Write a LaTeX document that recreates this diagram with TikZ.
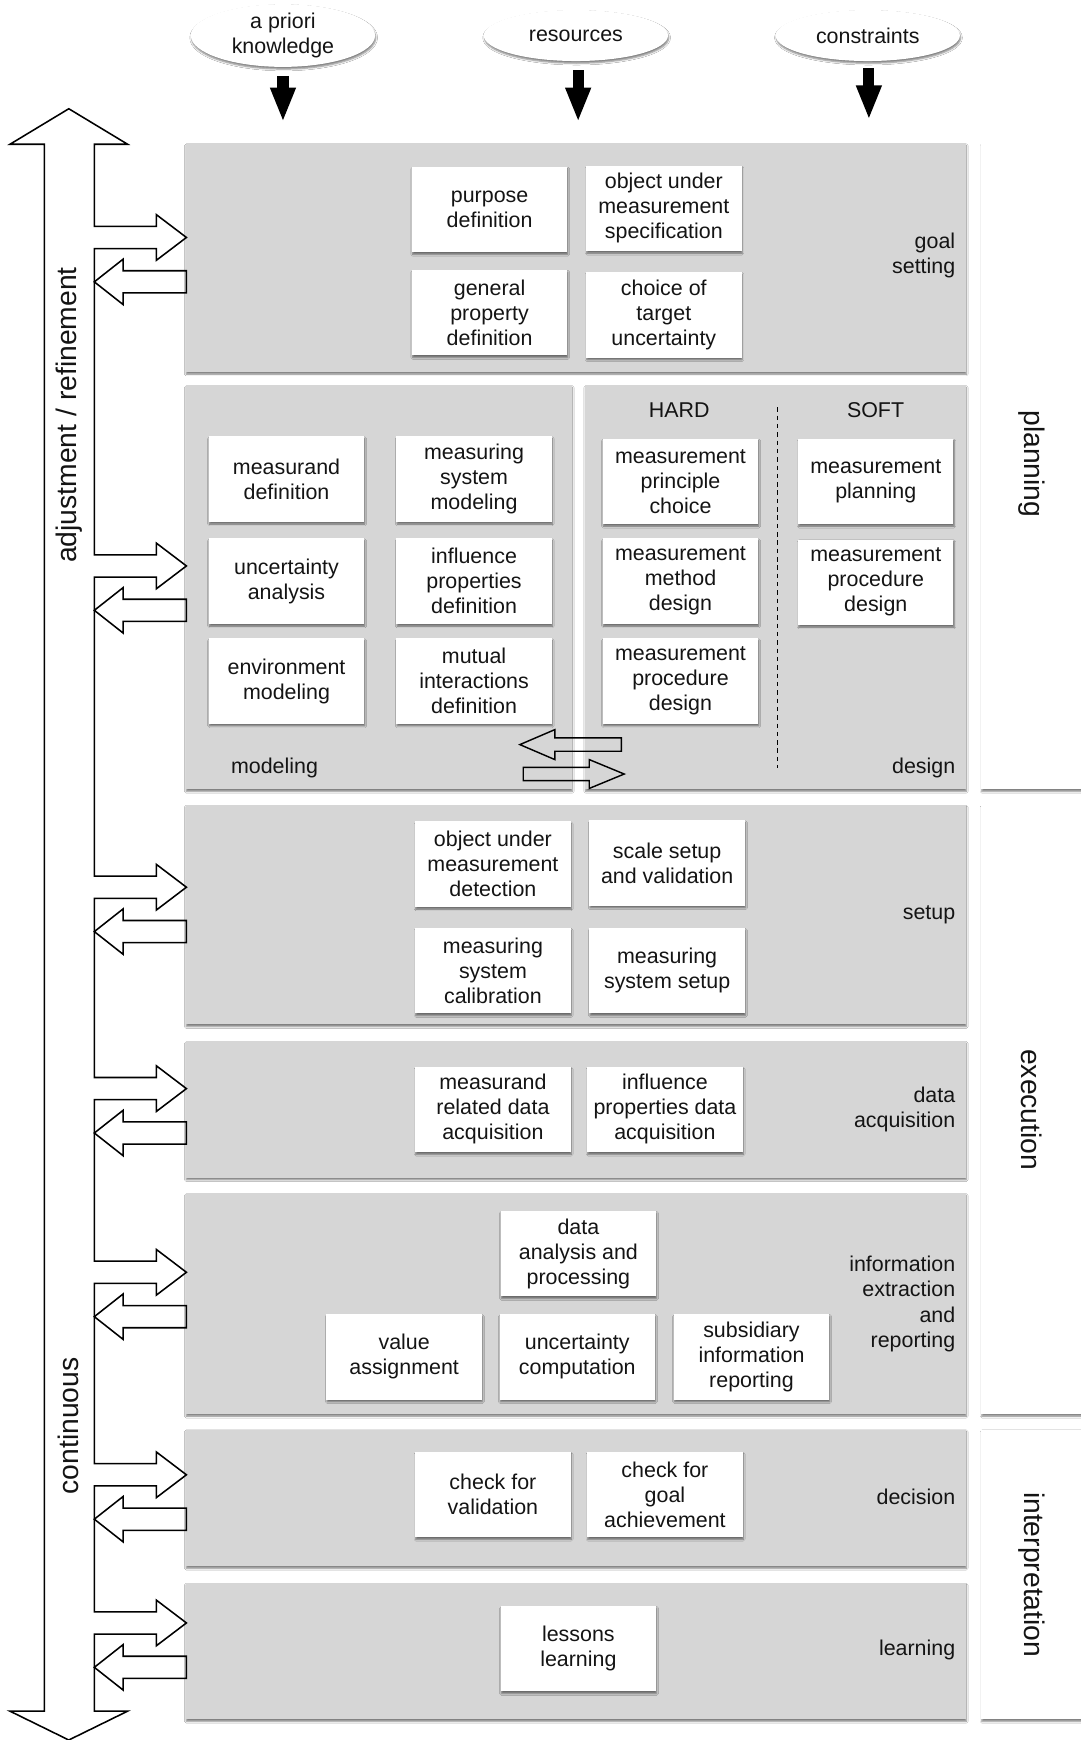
\documentclass[tikz,border=0pt]{standalone}
\usepackage{fontspec}
\setmainfont{Liberation Sans}
\usetikzlibrary{shapes.geometric,shadows.blur,arrows.meta}
\definecolor{panelgray}{RGB}{214,214,214}
\definecolor{txt}{RGB}{20,20,20}
\begin{document}
\begin{tikzpicture}[x=1pt,y=-1pt,
  every node/.style={text=txt},
  shad/.style={blur shadow={shadow xshift=0.6pt,shadow yshift=-2pt,shadow blur radius=1.6pt,shadow opacity=50}},
  panel/.style={fill=panelgray,shad,anchor=north west,inner sep=0pt,minimum width=703pt},
  rpanel/.style={fill=white,shad,anchor=north west,inner sep=0pt,minimum width=130pt},
  wbox/.style={fill=white,shad,anchor=north west,minimum width=140pt,minimum height=77pt,inner sep=0pt,align=center,font=\fontsize{19.3}{22.5}\selectfont},
  ell/.style={ellipse,fill=white,shad,minimum width=166pt,minimum height=46pt,inner sep=0pt,align=center,font=\fontsize{19.3}{22}\selectfont},
  lbl/.style={inner sep=0pt,font=\fontsize{19.3}{22.7}\selectfont},
  biglbl/.style={inner sep=0pt,font=\fontsize{25.5}{30}\selectfont},
  blk/.style={line width=10pt,-{Triangle[width=21pt,length=31pt]},black},
  outl/.style={draw=black,line width=1.4pt,line join=miter,fill=white},
  outlnf/.style={draw=black,line width=1.3pt,line join=miter}
]
\useasboundingbox (0,0) rectangle (974,1568);
\fill[white] (0,0) rectangle (974,1568);

% right column
\node[rpanel,minimum height=582pt] (plan) at (884,129) {};
\node[rpanel,minimum height=549pt] (exec) at (884,725) {};
\node[rpanel,minimum height=261pt] (interp) at (884,1288) {};
\node[biglbl,rotate=-90] (planl) at (930,418) {planning};
\node[biglbl,rotate=-90] (execl) at (930,1000) {execution};
\node[biglbl,rotate=-90] (interpl) at (930,1419) {interpretation};

% gray panels
\node[panel,minimum height=206pt] (goal) at (167,129) {};
\node[panel,minimum width=348pt,minimum height=364pt] (model) at (167,347) {};
\node[panel,minimum width=343pt,minimum height=364pt] (design) at (527,347) {};
\node[panel,minimum height=198pt] (setup) at (167,725) {};
\node[panel,minimum height=123pt] (data) at (167,938) {};
\node[panel,minimum height=199pt] (info) at (167,1075) {};
\node[panel,minimum height=123pt] (decis) at (167,1288) {};
\node[panel,minimum height=123pt] (learn) at (167,1426) {};

% ellipses and black arrows
\node[ell] (apk) at (255,32) {a priori\\knowledge};
\node[ell] (res) at (519,32) {resources};
\node[ell] (con) at (782,32) {constraints};
\draw[blk] ([yshift=-8pt]apk.south) -- ([yshift=19pt]apk.south |- goal.north);
\draw[blk] ([yshift=-8pt,xshift=2pt]res.south) -- ([yshift=19pt,xshift=2pt]res.south |- goal.north);
\draw[blk] ([yshift=-6pt,xshift=1pt]con.south) -- ([yshift=21pt,xshift=1pt]con.south |- goal.north);

% goal setting
\node[wbox] (pd) at (371,150) {purpose\\definition};
\node[wbox] (oums) at (528,149) {object under\\measurement\\specification};
\node[wbox] (gpd) at (371,243) {general\\property\\definition};
\node[wbox] (ctu) at (528,245) {choice of\\target\\uncertainty};
\node[lbl,anchor=east,align=right] (goall) at (861,230.5) {goal\\setting};

% modeling
\node[wbox] (md) at (188,393) {measurand\\definition};
\node[wbox] (msm) at (357,393) {measuring\\system\\modeling};
\node[wbox] (ua) at (188,485) {uncertainty\\analysis};
\node[wbox] (ipd) at (357,485) {influence\\properties\\definition};
\node[wbox] (em) at (188,575) {environment\\modeling};
\node[wbox] (mid) at (357,575) {mutual\\interactions\\definition};
\node[lbl,anchor=west] (modell) at (208,692) {modeling};

% design
\node[lbl] (hard) at (612,370) {HARD};
\node[lbl] (soft) at (789,370) {SOFT};
\node[wbox] (mpc) at (543,395) {measurement\\principle\\choice};
\node[wbox] (mmd) at (543,485) {measurement\\method\\design};
\node[wbox] (mpd) at (543,575) {measurement\\procedure\\design};
\node[wbox] (mpl) at (719,395) {measurement\\planning};
\node[wbox] (mpd2) at (719,486) {measurement\\procedure\\design};
\node[lbl,anchor=east] (designl) at (861,692) {design};
\coordinate (dashtop) at (701,367);
\coordinate (dashbot) at (701,692);
\draw[line width=1pt,dash pattern=on 4pt off 3.5pt] (dashtop) -- (dashbot);

% cross arrows
\draw[outlnf] (468.5,671) -- (500,657.5) -- (500,665) -- (560,665) -- (560,677) -- (500,677) -- (500,684.5) -- cycle;
\draw[outlnf] (562.5,697.5) -- (531,684.5) -- (531,691.5) -- (471.5,691.5) -- (471.5,703.5) -- (531,703.5) -- (531,710.5) -- cycle;

% setup
\node[wbox] (oumd) at (374,740) {object under\\measurement\\detection};
\node[wbox] (ssv) at (531,739) {scale setup\\and validation};
\node[wbox] (msc) at (374,836) {measuring\\system\\calibration};
\node[wbox] (mss) at (531,836) {measuring\\system setup};
\node[lbl,anchor=east] (setupl) at (861,824) {setup};

% data acquisition
\node[wbox] (mrda) at (374,961) {measurand\\related data\\acquisition};
\node[wbox] (ipda) at (529,961) {influence\\properties data\\acquisition};
\node[lbl,anchor=east,align=right] (datal) at (861,1000) {data\\acquisition};

% information extraction
\node[wbox] (dap) at (451,1091) {data\\analysis and\\processing};
\node[wbox] (va) at (294,1184) {value\\assignment};
\node[wbox] (uc) at (450,1184) {uncertainty\\computation};
\node[wbox] (sir) at (607,1184) {subsidiary\\information\\reporting};
\node[lbl,anchor=east,align=right] (infol) at (861,1175) {information\\extraction\\and\\reporting};

% decision
\node[wbox] (cfv) at (374,1308) {check for\\validation};
\node[wbox] (cfga) at (529,1308) {check for\\goal\\achievement};
\node[lbl,anchor=east] (decisl) at (861,1349) {decision};

% learning
\node[wbox] (ll) at (451,1447) {lessons\\learning};
\node[lbl,anchor=east] (learnl) at (861,1487) {learning};

% big double arrow with branches
\draw[outl,fill=none] (62,98) -- (115,130) -- (85,130)
  \foreach \c in {214,510,799.5,981,1146.5,1329,1462.5}{
    -- (85,{\c-10}) -- (141,{\c-10}) -- (141,{\c-20.5}) -- (168,\c) -- (141,{\c+20.5}) -- (141,{\c+10}) -- (85,{\c+10})
  }
  -- (85,1542) -- (115,1542) -- (62,1568) -- (9,1542) -- (40,1542) -- (40,130) -- (9,130) -- cycle;
\foreach \c in {214,510,799.5,981,1146.5,1329,1462.5}{
  \draw[outl,fill=none] (85,{\c+40}) -- (111,{\c+19.5}) -- (111,{\c+30}) -- (168,{\c+30}) -- (168,{\c+50}) -- (111,{\c+50}) -- (111,{\c+60.5}) -- cycle;
}
\node[biglbl,rotate=90] (adj) at (62,374) {adjustment / refinement};
\node[biglbl,rotate=90] (cont) at (62,1285) {continuous};
\end{tikzpicture}
\end{document}
